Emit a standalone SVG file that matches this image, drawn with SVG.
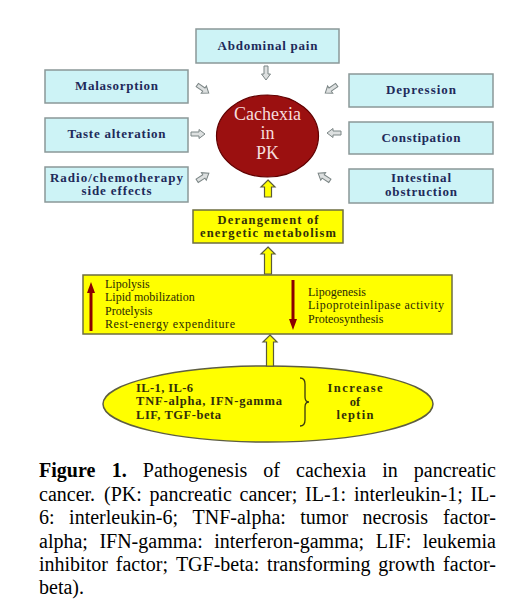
<svg xmlns="http://www.w3.org/2000/svg" width="522" height="611" viewBox="0 0 522 611">
<style>
.cbox{fill:#cdf3f6;stroke:#8a9898;stroke-width:1.5}
.ctxt{font-family:'Liberation Serif',serif;font-weight:bold;font-size:13px;fill:#1e2a5a;text-anchor:middle}
.ybox{fill:#ffff00;stroke:#6e6e40;stroke-width:1.5}
.ytxt{font-family:'Liberation Serif',serif;font-weight:bold;font-size:12.5px;fill:#33300a}
.ptxt{font-family:'Liberation Serif',serif;font-size:12px;fill:#2a2a05}
.garr{fill:#dde0e0;stroke:#7b8585;stroke-width:1}
.yarr{fill:#ffff00;stroke:#5a5a3a;stroke-width:1.2}
.cap{font-family:'Liberation Serif',serif;font-size:20px;fill:#000}
.kt{font-family:'Liberation Serif',serif;font-size:18px;fill:#f6dcdc;text-anchor:middle}
</style>
<defs>
<path id="ga" d="M-7,-2 L1,-2 L1,-4.5 L7,0 L1,4.5 L1,2 L-7,2 Z"/>
</defs>
<rect width="522" height="611" fill="#fff"/>

<g id="abdominal-pain"><rect class="cbox" x="196" y="29" width="143" height="34"/><text class="ctxt" x="267.5" y="50" textLength="100" lengthAdjust="spacing">Abdominal pain</text></g>
<g id="malasorption"><rect class="cbox" x="45" y="70" width="143" height="33"/><text class="ctxt" x="116.5" y="90" textLength="83" lengthAdjust="spacing">Malasorption</text></g>
<g id="taste-alteration"><rect class="cbox" x="45" y="118" width="143" height="34"/><text class="ctxt" x="116.5" y="138" textLength="98" lengthAdjust="spacing">Taste alteration</text></g>
<g id="radio-chemotherapy"><rect class="cbox" x="45" y="167" width="143" height="35"/><text class="ctxt" x="116.5" y="181.5" textLength="133" lengthAdjust="spacing">Radio/chemotherapy</text><text class="ctxt" x="116.5" y="195" textLength="70" lengthAdjust="spacing">side effects</text></g>
<g id="depression"><rect class="cbox" x="349" y="74" width="144" height="33"/><text class="ctxt" x="421" y="94" textLength="70" lengthAdjust="spacing">Depression</text></g>
<g id="constipation"><rect class="cbox" x="349" y="122" width="144" height="32"/><text class="ctxt" x="421" y="142" textLength="79" lengthAdjust="spacing">Constipation</text></g>
<g id="intestinal-obstruction"><rect class="cbox" x="349" y="169" width="144" height="34"/><text class="ctxt" x="421" y="182" textLength="60" lengthAdjust="spacing">Intestinal</text><text class="ctxt" x="421" y="196" textLength="72" lengthAdjust="spacing">obstruction</text></g>

<g id="cachexia"><ellipse cx="267.5" cy="136" rx="51" ry="41" fill="#9b1010" stroke="#600000" stroke-width="1.2"/>
<text class="kt" x="267.5" y="120">Cachexia</text><text class="kt" x="267.5" y="139">in</text><text class="kt" x="267.5" y="159">PK</text></g>

<g id="derangement"><rect class="ybox" x="193" y="210" width="150" height="33"/><text class="ytxt" x="268" y="224" text-anchor="middle" textLength="101" lengthAdjust="spacing">Derangement of</text><text class="ytxt" x="268" y="237" text-anchor="middle" textLength="136" lengthAdjust="spacing">energetic metabolism</text></g>

<g id="metabolic-changes"><rect class="ybox" x="83" y="275" width="369" height="59"/>
<text class="ptxt" x="105" y="287.5">Lipolysis</text>
<text class="ptxt" x="105" y="301">Lipid mobilization</text>
<text class="ptxt" x="105" y="314.5">Protelysis</text>
<text class="ptxt" x="105" y="328" textLength="130" lengthAdjust="spacing">Rest-energy expenditure</text>
<text class="ptxt" x="308" y="295.5">Lipogenesis</text>
<text class="ptxt" x="308" y="309" textLength="136" lengthAdjust="spacing">Lipoproteinlipase activity</text>
<text class="ptxt" x="308" y="322.5">Proteosynthesis</text>
<path d="M91,331 L91,292" stroke="#8b0000" stroke-width="3"/><path d="M91,282 L95,293 L87,293 Z" fill="#8b0000"/>
<path d="M293,280 L293,320" stroke="#8b0000" stroke-width="3"/><path d="M293,330 L297,319 L289,319 Z" fill="#8b0000"/>
</g>

<g id="cytokines"><ellipse cx="268" cy="404" rx="165" ry="38" fill="#ffff00" stroke="#5e5e40" stroke-width="1.5"/>
<text class="ytxt" x="136" y="391.5" textLength="57" lengthAdjust="spacing">IL-1, IL-6</text>
<text class="ytxt" x="136" y="405" textLength="146" lengthAdjust="spacing">TNF-alpha, IFN-gamma</text>
<text class="ytxt" x="136" y="418.5" textLength="85" lengthAdjust="spacing">LIF, TGF-beta</text>
<path d="M300,378 Q305,378 305,384 L305,397 Q305,402 309,402 Q305,402 305,407 L305,420 Q305,426 300,426" fill="none" stroke="#3a3a10" stroke-width="1.3"/>
<text class="ytxt" x="355" y="392" text-anchor="middle" textLength="55" lengthAdjust="spacing">Increase</text>
<text class="ytxt" x="355" y="405.5" text-anchor="middle">of</text>
<text class="ytxt" x="355" y="419" text-anchor="middle" textLength="37" lengthAdjust="spacing">leptin</text>
</g>

<g id="connectors">
<use href="#ga" class="garr" transform="translate(266,73) rotate(90)"/>
<use href="#ga" class="garr" transform="translate(203,89) rotate(35)"/>
<use href="#ga" class="garr" transform="translate(198,134)"/>
<use href="#ga" class="garr" transform="translate(203,177) rotate(-33)"/>
<use href="#ga" class="garr" transform="translate(331,89) rotate(145)"/>
<use href="#ga" class="garr" transform="translate(334,133) rotate(180)"/>
<use href="#ga" class="garr" transform="translate(324,177) rotate(213)"/>
<path class="yarr" d="M268,180 L275,187 L271.5,187 L271.5,197 L264.5,197 L264.5,187 L261,187 Z"/>
<path class="yarr" d="M268,247 L275,254 L271.5,254 L271.5,274 L264.5,274 L264.5,254 L261,254 Z"/>
<path class="yarr" d="M270,335 L277,342 L273.5,342 L273.5,366 L266.5,366 L266.5,342 L263,342 Z"/>
</g>

<g id="caption" class="cap">
<text y="477"><tspan x="39" font-weight="bold">Figure</tspan><tspan x="111.8" font-weight="bold">1.</tspan><tspan x="142.8">Pathogenesis</tspan><tspan x="263.3">of</tspan><tspan x="296.1">cachexia</tspan><tspan x="382.2">in</tspan><tspan x="496" text-anchor="end">pancreatic</tspan></text>
<text y="501"><tspan x="39">cancer.</tspan><tspan x="104">(PK:</tspan><tspan x="149.6">pancreatic</tspan><tspan x="239.5">cancer;</tspan><tspan x="305">IL-1:</tspan><tspan x="353.9">interleukin-1;</tspan><tspan x="496" text-anchor="end">IL-</tspan></text>
<text y="524"><tspan x="39">6:</tspan><tspan x="69.1">interleukin-6;</tspan><tspan x="192.5">TNF-alpha:</tspan><tspan x="300.3">tumor</tspan><tspan x="362.6">necrosis</tspan><tspan x="496" text-anchor="end">factor-</tspan></text>
<text y="548"><tspan x="39">alpha;</tspan><tspan x="99.4">IFN-gamma:</tspan><tspan x="214.2">interferon-gamma;</tspan><tspan x="375.7">LIF:</tspan><tspan x="496" text-anchor="end">leukemia</tspan></text>
<text y="571"><tspan x="39">inhibitor</tspan><tspan x="115.8">factor;</tspan><tspan x="175.9">TGF-beta:</tspan><tspan x="267.1">transforming</tspan><tspan x="378.3">growth</tspan><tspan x="496" text-anchor="end">factor-</tspan></text>
<text y="594" x="39">beta).</text>
</g>
</svg>
